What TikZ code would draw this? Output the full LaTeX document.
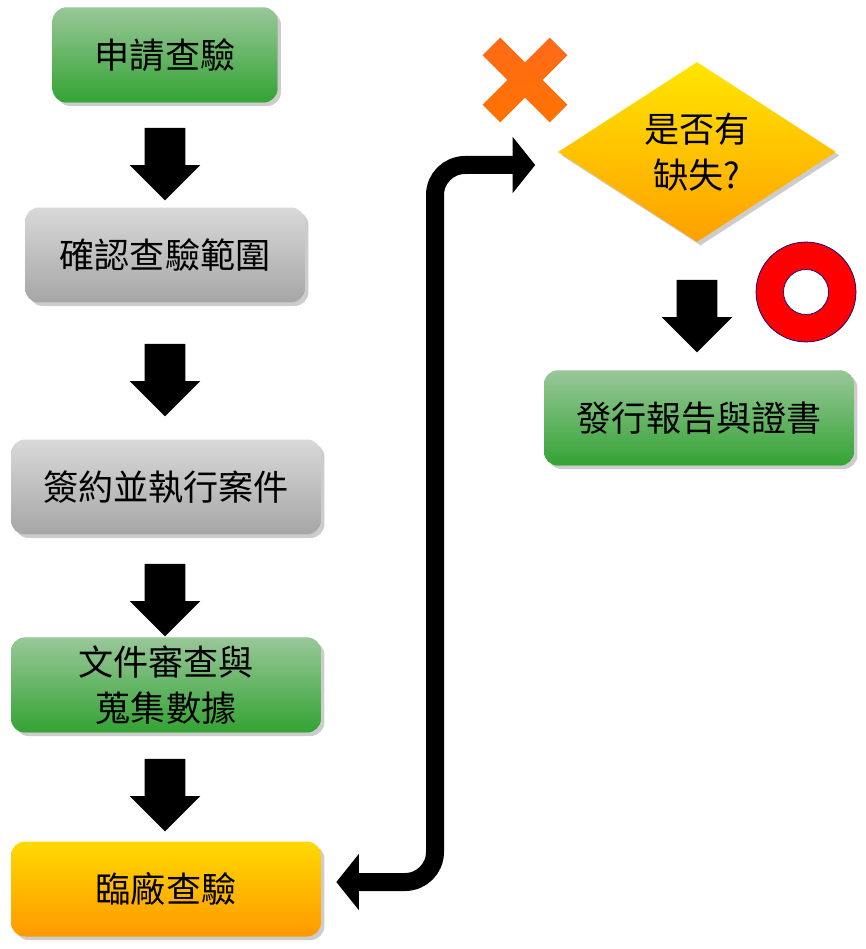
\documentclass[tikz,border=0pt]{standalone}
\usepackage{fontspec}
\newfontfamily\cjk{Noto Sans CJK TC}
\usetikzlibrary{positioning,shapes.geometric,shapes.arrows,shadows,arrows.meta}
\tikzset{x=0.02cm,y=-0.02cm,
         box/.style={rectangle,rounded corners=8pt,minimum height=1.9cm,
                     font=\cjk\fontsize{20}{26}\selectfont,align=center,
                     drop shadow={opacity=0.4,shadow xshift=2pt,shadow yshift=-2pt}},
         green box/.style={box,top color=green!45!black!40!white,bottom color=green!55!black!80!white,
                     fill=green!50!black!60!white},
         gray box/.style={box,top color=gray!30,bottom color=gray!70},
         yellow box/.style={box,top color=yellow!70!orange,bottom color=orange!80!yellow},
         down arrow/.style={single arrow,fill=black,draw=none,minimum height=1.45cm,
                     minimum width=1.4cm,single arrow head extend=0.3cm,inner sep=0.4cm,
                     shape border rotate=270}}
\begin{document}
\begin{tikzpicture}
\useasboundingbox (0,0) rectangle (865,949);
% flow on the left
\node[green box,minimum width=4.5cm] (apply) at (165,55) {申請查驗};
\node[gray box,minimum width=5.6cm] (scope) at (165,255) {確認查驗範圍};
\node[gray box,minimum width=6.2cm] (sign) at (166,487) {簽約並執行案件};
\node[green box,minimum width=6.2cm] (doc) at (166,685) {文件審查與\\蒐集數據};
\node[yellow box,minimum width=6.2cm] (visit) at (166,889) {臨廠查驗};
\node[down arrow] (a1) at (165,154) {};
\node[down arrow] (a2) at (165,370) {};
\node[down arrow] (a3) at (165,590) {};
\node[down arrow] (a4) at (165,785) {};
% decision on the right
\node[diamond,aspect=1.55,minimum width=5.56cm,minimum height=3.6cm,inner sep=0pt,
      top color=yellow!80!orange,bottom color=orange!75!yellow,
      font=\cjk\fontsize{20}{26}\selectfont,align=center,
      drop shadow={opacity=0.4,shadow xshift=2pt,shadow yshift=-2pt}] (check) at (697,152) {是否有\\缺失?};
\node[down arrow] (a5) at (697,306) {};
\node[green box,minimum width=6.2cm] (report) at (699,418) {發行報告與證書};
% connector
\coordinate (turn) at (435,165);
\coordinate (low) at (435,882);
\draw[line width=0.36cm,rounded corners=0.6cm,
      {Triangle[length=0.45cm,width=1.1cm]}-{Triangle[length=0.45cm,width=1.1cm]}]
  ([xshift=0.3cm]visit.east |- low) -- (low) -- (turn) -- ([xshift=-0.45cm]check.west |- turn);
% marks
\node[rectangle,minimum width=1.9cm,minimum height=0.5cm,rotate=45,
      top color=orange!70!red!90,bottom color=orange!90!red] (x1) at (525,80) {};
\node[rectangle,minimum width=1.9cm,minimum height=0.5cm,rotate=-45,
      top color=orange!70!red!90,bottom color=orange!90!red] (x2) at (525,80) {};
\node[circle,minimum size=2cm,draw=blue!50!black,fill=red] (ring) at (806,292) {};
\node[circle,minimum size=0.9cm,draw=blue!50!black,fill=white] (hole) at (ring) {};
\end{tikzpicture}
\end{document}
